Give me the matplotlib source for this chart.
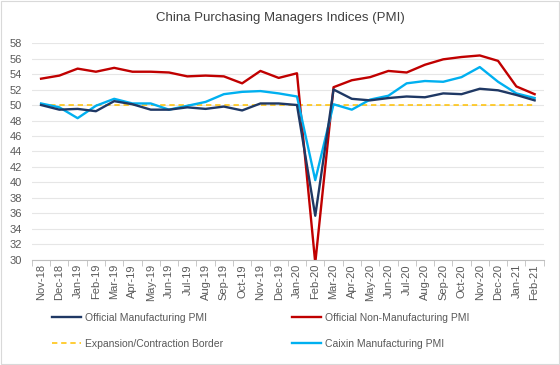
import numpy as np
import matplotlib
matplotlib.use("Agg")
import matplotlib.pyplot as plt
from matplotlib.patches import Rectangle

# ---- DATA ----
months = ["Nov-18", "Dec-18", "Jan-19", "Feb-19", "Mar-19", "Apr-19", "May-19",
          "Jun-19", "Jul-19", "Aug-19", "Sep-19", "Oct-19", "Nov-19", "Dec-19",
          "Jan-20", "Feb-20", "Mar-20", "Apr-20", "May-20", "Jun-20", "Jul-20",
          "Aug-20", "Sep-20", "Oct-20", "Nov-20", "Dec-20", "Jan-21", "Feb-21"]

official_mfg = [50.0, 49.4, 49.5, 49.2, 50.5, 50.1, 49.4, 49.4, 49.7, 49.5, 49.8,
                49.3, 50.2, 50.2, 50.0, 35.7, 52.0, 50.8, 50.6, 50.9, 51.1, 51.0,
                51.5, 51.4, 52.1, 51.9, 51.3, 50.6]

official_nonmfg = [53.4, 53.8, 54.7, 54.3, 54.8, 54.3, 54.3, 54.2, 53.7, 53.8, 53.7,
                   52.8, 54.4, 53.5, 54.1, 29.6, 52.3, 53.2, 53.6, 54.4, 54.2, 55.2,
                   55.9, 56.2, 56.4, 55.7, 52.4, 51.4]

caixin_mfg = [50.2, 49.7, 48.3, 49.9, 50.8, 50.2, 50.2, 49.4, 49.9, 50.4, 51.4,
              51.7, 51.8, 51.5, 51.1, 40.3, 50.1, 49.4, 50.7, 51.2, 52.8, 53.1,
              53.0, 53.6, 54.9, 53.0, 51.5, 50.9]

border = [50.0] * len(months)

# ---- STYLE ----
plt.rcParams["font.family"] = ["Liberation Sans", "DejaVu Sans"]
TEXT = "#595959"
GRID = "#E6E6E6"

fig = plt.figure(figsize=(5.6, 3.65), dpi=100)
ax = fig.add_axes([0.057, 0.288, 0.914, 0.594])

x = np.arange(len(months))
l_border, = ax.plot(x, border, color="#FFC000", lw=1.1, ls=(0, (3.5, 2.5)),
                    label="Expansion/Contraction Border")
l_nonmfg, = ax.plot(x, official_nonmfg, color="#C00000", lw=1.7,
                    label="Official Non-Manufacturing PMI")
l_caixin, = ax.plot(x, caixin_mfg, color="#00B0F0", lw=1.7,
                    label="Caixin Manufacturing PMI")
l_mfg, = ax.plot(x, official_mfg, color="#1F3864", lw=1.7,
                 label="Official Manufacturing PMI")

ax.set_xlim(-0.5, len(months) - 0.5)
ax.set_ylim(30, 58)
ax.set_yticks(np.arange(30, 59, 2))
ax.set_xticks(x)
ax.set_xticklabels(months, rotation=90)
ax.set_xticks(np.arange(-0.5, len(months), 1), minor=True)

ax.grid(axis="y", color=GRID, lw=0.8)
ax.set_axisbelow(True)
for s in ["top", "right", "left"]:
    ax.spines[s].set_visible(False)
ax.spines["bottom"].set_color("#BFBFBF")

ax.tick_params(axis="x", which="major", length=0, labelsize=8, labelcolor=TEXT, pad=3)
ax.tick_params(axis="x", which="minor", length=4, color="#BFBFBF")
ax.tick_params(axis="y", length=0, labelsize=8, labelcolor=TEXT, pad=7)

fig.text(0.5, 0.952, "China Purchasing Managers Indices (PMI)", ha="center",
         va="center", fontsize=9.5, color="#404040")

leg = fig.legend(handles=[l_mfg, l_border, l_nonmfg, l_caixin], ncol=2,
                 loc="upper left", bbox_to_anchor=(0.093, 0.143), frameon=False,
                 fontsize=7.5, handlelength=2.8, columnspacing=6.6,
                 labelspacing=1.55, handletextpad=0.35, borderaxespad=0,
                 borderpad=0)
for t in leg.get_texts():
    t.set_color(TEXT)

fig.patches.append(Rectangle((0.001, 0.002), 0.997, 0.995, transform=fig.transFigure,
                             fill=False, edgecolor="#D9D9D9", lw=0.8))

fig.savefig("out.png", dpi=100)
